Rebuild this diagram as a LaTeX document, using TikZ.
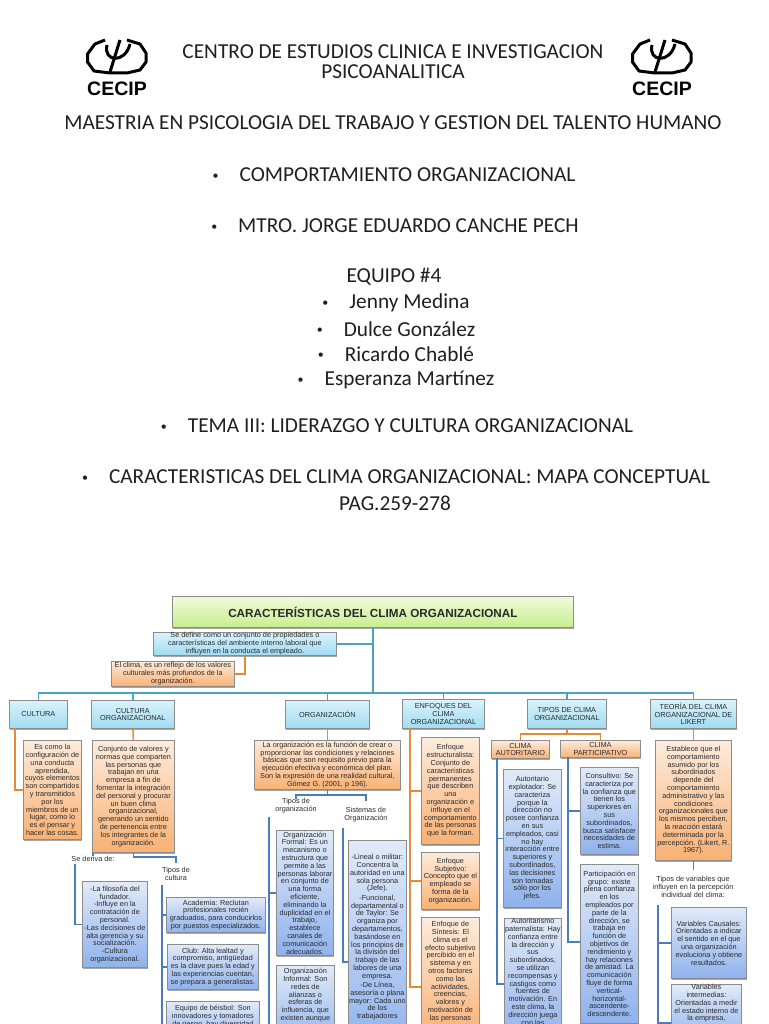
\documentclass[tikz,border=0pt]{standalone}
\usepackage{fontspec}
\setmainfont{Carlito}
\newfontfamily\mapfont{Liberation Sans}
\usetikzlibrary{shadows}

\definecolor{tealwire}{HTML}{4AA3C2}
\definecolor{orangewire}{HTML}{E58A3C}
\definecolor{bluewire}{HTML}{4A7EBB}
\definecolor{boxedge}{HTML}{8C8C8C}
\definecolor{maptext}{HTML}{2A2A2A}
\definecolor{cyantop}{HTML}{DAF2FB}
\definecolor{cyanbot}{HTML}{A0DCF2}
\definecolor{orangetop}{HTML}{FDEBDC}
\definecolor{orangebot}{HTML}{F9B173}
\definecolor{bluetop}{HTML}{E1EAF9}
\definecolor{bluebot}{HTML}{8FB2EC}
\definecolor{greentop}{HTML}{F3F9DC}
\definecolor{greenbot}{HTML}{C7EF8C}

\newcommand{\mapsize}{\mapfont\fontsize{7.3}{7.8}\selectfont}
\newcommand{\hdbullet}{\raisebox{2.5pt}{\fontsize{12}{12}\selectfont\textbullet}\hspace{21pt}}

\tikzset{
    headline/.style={font=\fontsize{21.3}{24}\selectfont, text=black!88, inner sep=0pt},
    mapbox/.style={draw=boxedge, line width=.8pt, anchor=north west, align=center, inner sep=0pt,
        text=maptext, font=\mapsize,
        drop shadow={shadow xshift=1pt, shadow yshift=-1.2pt, fill=black, opacity=.35}},
    orangebox/.style={mapbox, top color=orangetop, bottom color=orangebot},
    cyanbox/.style={mapbox, top color=cyantop, bottom color=cyanbot},
    bluebox/.style={mapbox, top color=bluetop, bottom color=bluebot},
    greenbox/.style={mapbox, top color=greentop, bottom color=greenbot},
    maplabel/.style={align=center, inner sep=0pt, text=maptext, font=\mapsize},
    tealline/.style={draw=tealwire, line width=1.5pt},
    orangeline/.style={draw=orangewire, line width=1.5pt},
    blueline/.style={draw=bluewire, line width=1.5pt},
    cecip/.pic={
        \draw[line width=3pt, line join=round] (18,2) -- (8,6) -- (.5,16) -- (.5,24) -- (7,33) -- (23,35) -- (40,35) -- (53,32) -- (59,24) -- (59,15) -- (53,6) -- (40,2);
        \draw[line width=3pt] (20,7) .. controls (16,24) and (38,26) .. (43,6);
        \draw[line width=3pt] (33,2) -- (23,34);
        \node[inner sep=0pt, font=\mapfont\bfseries\fontsize{19.5}{20}\selectfont] (-name) at (30,51) {CECIP};
    }
}

\begin{document}
\begin{tikzpicture}[x=1pt, y=-1pt]
    \useasboundingbox (0,0) rectangle (768,1024);
    \clip (0,0) rectangle (768,1024);

    % Cover page:
    \pic (logoleft) at (87,38) {cecip};
    \pic (logoright) at (632,38) {cecip};
    \node[headline] (centro) at (393,52) {CENTRO DE ESTUDIOS CLINICA E INVESTIGACION};
    \node[headline] (psico) at (393,72) {PSICOANALITICA};
    \node[headline] (maestria) at (393,123) {MAESTRIA EN PSICOLOGIA DEL TRABAJO Y GESTION DEL TALENTO HUMANO};
    \node[headline] (comport) at (394,175) {\hdbullet COMPORTAMIENTO ORGANIZACIONAL};
    \node[headline] (mtro) at (395,226) {\hdbullet MTRO. JORGE EDUARDO CANCHE PECH};
    \node[headline] (equipo) at (394,277) {EQUIPO \#4};
    \node[headline] (jenny) at (396,303) {\hdbullet Jenny Medina};
    \node[headline] (dulce) at (396,329) {\hdbullet Dulce González};
    \node[headline] (ricardo) at (396,354) {\hdbullet Ricardo Chablé};
    \node[headline] (esperanza) at (396,380) {\hdbullet Esperanza Martínez};
    \node[headline] (tema) at (397,426) {\hdbullet TEMA III: LIDERAZGO Y CULTURA ORGANIZACIONAL};
    \node[headline] (caract) at (396,477) {\hdbullet CARACTERISTICAS DEL CLIMA ORGANIZACIONAL: MAPA CONCEPTUAL};
    \node[headline] (pag) at (395,503) {PAG.259-278};

    % Top of the map:
    \coordinate (bus) at (0,693);
    \node[greenbox, minimum width=401pt, minimum height=31pt, font=\mapfont\bfseries\fontsize{11.7}{13}\selectfont] (titulo) at (172,596) {CARACTERÍSTICAS DEL CLIMA ORGANIZACIONAL};
    \node[cyanbox, minimum width=183pt, minimum height=23pt] (defbox) at (153,632) {Se define como un conjunto de propiedades o\\ características del ambiente interno laboral que\\ influyen en la conducta el empleado.};
    \node[orangebox, minimum width=123pt, minimum height=25pt] (climabox) at (111,661) {El clima, es un reflejo de los valores\\ culturales más profundos de la\\ organización.};

    % Branch heads:
    \node[cyanbox, minimum width=58pt, minimum height=28pt] (cultura) at (9,700) {CULTURA};
    \node[cyanbox, minimum width=83pt, minimum height=28pt] (cultorg) at (91,700) {CULTURA\\ ORGANIZACIONAL};
    \node[cyanbox, minimum width=84pt, minimum height=28pt] (orgn) at (285,700) {ORGANIZACIÓN};
    \node[cyanbox, minimum width=82pt, minimum height=29pt] (enfoques) at (402,699) {ENFOQUES DEL\\ CLIMA\\ ORGANIZACIONAL};
    \node[cyanbox, minimum width=79pt, minimum height=29pt] (tiposclima) at (527,699) {TIPOS DE CLIMA\\ ORGANIZACIONAL};
    \node[cyanbox, minimum width=86pt, minimum height=29pt] (teoria) at (650,699) {TEORÍA DEL CLIMA\\ ORGANIZACIONAL DE\\ LIKERT};

    % Cultura:
    \node[orangebox, minimum width=58pt, minimum height=99pt] (cultbox) at (23,740) {Es como la\\ configuración de\\ una conducta\\ aprendida,\\ cuyos elementos\\ son compartidos\\ y transmitidos\\ por los\\ miembros de un\\ lugar, como lo\\ es el pensar y\\ hacer las cosas.};
    \node[orangebox, minimum width=82pt, minimum height=112pt] (cultorgbox) at (92,740) {Conjunto de valores y\\ normas que comparten\\ las personas que\\ trabajan en una\\ empresa a fin de\\ fomentar la integración\\ del personal y procurar\\ un buen clima\\ organizacional,\\ generando un sentido\\ de pertenencia entre\\ los integrantes de la\\ organización.};
    \node[maplabel] (sederiva) at (93,859) {Se deriva de:};
    \node[maplabel] (tiposcult) at (176,874) {Tipos de\\ cultura};
    \node[bluebox, minimum width=65pt, minimum height=86pt] (filosofia) at (82,881) {-La filosofía del\\ fundador.\\ -Influye en la\\ contratación de\\ personal.\\ -Las decisiones de\\ alta gerencia y su\\ socialización.\\ -Cultura\\ organizacional.};
    \node[bluebox, minimum width=99pt, minimum height=35pt] (academia) at (166,897) {Academia: Reclutan\\ profesionales recién\\ graduados, para conducirlos\\ por puestos especializados.};
    \node[bluebox, minimum width=91pt, minimum height=45pt] (club) at (167,944) {Club: Alta lealtad y\\ compromiso, antigüedad\\ es la clave pues la edad y\\ las experiencias cuentan,\\ se prepara a generalistas.};
    \node[bluebox, minimum width=93pt, inner ysep=4pt] (beisbol) at (166,1001) {Equipo de béisbol: Son\\ innovadores y tomadores\\ de riesgo, hay diversidad\\ ~\\ ~};

    % Organizacion:
    \node[orangebox, minimum width=146pt, minimum height=49pt] (orgbox) at (254,740) {La organización es la función de crear o\\ proporcionar las condiciones y relaciones\\ básicas que son requisito previo para la\\ ejecución efectiva y económica del plan.\\ Son la expresión de una realidad cultural,\\ Gómez G. (2001, p 196).};
    \node[maplabel] (tiposorg) at (296,806) {Tipos de\\ organización};
    \node[maplabel] (sistemas) at (366,815) {Sistemas de\\ Organización};
    \node[bluebox, minimum width=57pt, minimum height=125pt] (formal) at (276,830) {Organización\\ Formal: Es un\\ mecanismo o\\ estructura que\\ permite a las\\ personas laborar\\ en conjunto de\\ una forma\\ eficiente,\\ eliminando la\\ duplicidad en el\\ trabajo,\\ establece\\ canales de\\ comunicación\\ adecuados.};
    \node[bluebox, minimum width=58pt, inner ysep=3pt] (informal) at (276,965) {Organización\\ Informal: Son\\ redes de\\ alianzas o\\ esferas de\\ influencia, que\\ existen aunque\\ ~\\ ~\\ ~};
    \node[bluebox, minimum width=58pt, inner ysep=14pt] (lineal) at (348,840) {-Lineal o militar:\\ Concentra la\\ autoridad en una\\ sola persona\\ (Jefe).\\[1.5pt] -Funcional,\\ departamental o\\ de Taylor: Se\\ organiza por\\ departamentos,\\ basándose en\\ los principios de\\ la división del\\ trabajo de las\\ labores de una\\ empresa.\\[1.5pt] -De Línea,\\ asesoría o plana\\ mayor: Cada uno\\ de los\\ trabajadores\\ ~\\ ~};

    % Enfoques:
    \node[orangebox, minimum width=58pt, minimum height=107pt] (estruct) at (421,737) {Enfoque\\ estructuralista:\\ Conjunto de\\ características\\ permanentes\\ que describen\\ una\\ organización e\\ influye en el\\ comportamiento\\ de las personas\\ que la forman.};
    \node[orangebox, minimum width=58pt, minimum height=57pt] (subjet) at (421,852) {Enfoque\\ Subjetivo:\\ Concepto que el\\ empleado se\\ forma de la\\ organización.};
    \node[orangebox, minimum width=58pt, inner ysep=4pt] (sintesis) at (421,917) {Enfoque de\\ Síntesis: El\\ clima es el\\ efecto subjetivo\\ percibido en el\\ sistema y en\\ otros factores\\ como las\\ actividades,\\ creencias,\\ valores y\\ motivación de\\ las personas\\ ~\\ ~};

    % Tipos de clima:
    \node[orangebox, minimum width=58pt, minimum height=18pt] (autorit) at (491,740) {CLIMA\\ AUTORITARIO};
    \node[orangebox, minimum width=80pt, minimum height=17pt] (particip) at (560,740) {CLIMA\\ PARTICIPATIVO};
    \node[bluebox, minimum width=58pt, minimum height=138pt] (explot) at (503,769) {Autoritario\\ explotador: Se\\ caracteriza\\ porque la\\ dirección no\\ posee confianza\\ en sus\\ empleados, casi\\ no hay\\ interacción entre\\ superiores y\\ subordinados,\\ las decisiones\\ son tomadas\\ sólo por los\\ jefes.};
    \node[bluebox, minimum width=57pt, inner ysep=0pt] (patern) at (504,918) {Autoritarismo\\ paternalista: Hay\\ confianza entre\\ la dirección y\\ sus\\ subordinados,\\ se utilizan\\ recompensas y\\ castigos como\\ fuentes de\\ motivación. En\\ este clima, la\\ dirección juega\\ con las\\ ~\\ ~};
    \node[bluebox, minimum width=58pt, minimum height=87pt] (consult) at (580,767) {Consultivo: Se\\ caracteriza por\\ la confianza que\\ tienen los\\ superiores en\\ sus\\ subordinados,\\ busca satisfacer\\ necesidades de\\ estima.};
    \node[bluebox, minimum width=58pt, minimum height=159pt] (grupo) at (580,864) {Participación en\\ grupo: existe\\ plena confianza\\ en los\\ empleados por\\ parte de la\\ dirección, se\\ trabaja en\\ función de\\ objetivos de\\ rendimiento y\\ hay relaciones\\ de amistad. La\\ comunicación\\ fluye de forma\\ vertical-\\ horizontal-\\ ascendente-\\ descendente.};

    % Teoria de Likert:
    \node[orangebox, minimum width=76pt, minimum height=120pt] (likert) at (655,740) {Establece que el\\ comportamiento\\ asumido por los\\ subordinados\\ depende del\\ comportamiento\\ administrativo y las\\ condiciones\\ organizacionales que\\ los mismos perciben,\\ la reacción estará\\ determinada por la\\ percepción. (Likert, R.\\ 1967).};
    \node[maplabel] (tiposvar) at (693,887) {Tipos de variables que\\ influyen en la percepción\\ individual del clima:};
    \node[bluebox, minimum width=75pt, minimum height=71pt] (causales) at (671,907) {Variables Causales:\\ Orientadas a indicar\\ el sentido en el que\\ una organización\\ evoluciona y obtiene\\ resultados.};
    \node[bluebox, minimum width=70pt, inner ysep=0pt] (intermed) at (671,984) {Variables\\ intermedias:\\ Orientadas a medir\\ el estado interno de\\ la empresa,\\ ~\\ ~\\ ~};

    % Free ends of the wires:
    \coordinate (culturadrop) at (15,728);
    \coordinate (derivadrop) at (75,864);
    \coordinate (tiposculttop) at (162,885);
    \coordinate (tiposcultend) at (162,1030);
    \coordinate (tiposorgtop) at (269,817);
    \coordinate (tiposorgend) at (269,1030);
    \coordinate (sistemastop) at (343,828);
    \coordinate (enfoquesdrop) at (410,728);
    \coordinate (autoritdrop) at (497,758);
    \coordinate (participdrop) at (568,757);
    \coordinate (tiposvartop) at (658,905);

    % Wires:
    \draw[tealline] (titulo.south) -- (titulo.south |- bus);
    \draw[tealline] (defbox.east) -- (defbox.east -| titulo.south);
    \draw[tealline] (cultura.north) |- (bus -| teoria.north) -- (teoria.north);
    \draw[tealline] (cultorg.north) -- (cultorg.north |- bus);
    \draw[tealline] (orgn.north) -- (orgn.north |- bus);
    \draw[tealline] (enfoques.north) -- (enfoques.north |- bus);
    \draw[tealline] (tiposclima.north) -- (tiposclima.north |- bus);
    \draw[orangeline] (defbox.south) |- (climabox.east);
    \draw[orangeline] (culturadrop) |- (cultbox.west);
    \draw[orangeline] (cultorg.south) -- (cultorgbox.north);
    \draw[blueline] (sederiva.north |- cultorgbox.south) -- (sederiva.north);
    \draw[blueline] (derivadrop) |- (filosofia.west);
    \draw[blueline, shorten >=4pt] (cultorgbox.south) -- ++(0,4) -| (tiposcult.north);
    \draw[blueline] (tiposculttop) -- (tiposcultend);
    \draw[blueline] (academia.west -| tiposculttop) -- (academia.west);
    \draw[blueline] (club.west -| tiposculttop) -- (club.west);
    \draw[orangeline] (orgn.south) -- (orgbox.north);
    \draw[blueline] (orgbox.south) -- ++(0,5) -| (tiposorg.north);
    \draw[blueline, shorten >=7pt] (orgbox.south) -- ++(0,5) -| (sistemas.north);
    \draw[blueline] (tiposorgtop) -- (tiposorgend);
    \draw[blueline] (formal.west -| tiposorgtop) -- (formal.west);
    \draw[blueline] (sistemastop) |- (lineal.west |- 0,962);
    \draw[orangeline] (enfoquesdrop) |- (sintesis.west |- 0,987);
    \draw[orangeline] (estruct.west -| enfoquesdrop) -- (estruct.west);
    \draw[orangeline] (subjet.west -| enfoquesdrop) -- (subjet.west);
    \draw[orangeline] (tiposclima.south) -- ++(0,5) -| (autorit.north);
    \draw[orangeline] (tiposclima.south) -- ++(0,5) -| (particip.north);
    \draw[blueline] (autoritdrop) |- (patern.west |- 0,984);
    \draw[blueline] (explot.west -| autoritdrop) -- (explot.west);
    \draw[blueline] (participdrop) |- (grupo.west |- 0,942);
    \draw[blueline] (consult.west -| participdrop) -- (consult.west);
    \draw[orangeline] (teoria.south) -- (likert.north);
    \draw[blueline] (likert.south) -- (likert.south |- 0,870);
    \draw[blueline] (tiposvartop) |- (intermed.west |- 0,1023);
    \draw[blueline] (causales.west -| tiposvartop) -- (causales.west);
\end{tikzpicture}
\end{document}
